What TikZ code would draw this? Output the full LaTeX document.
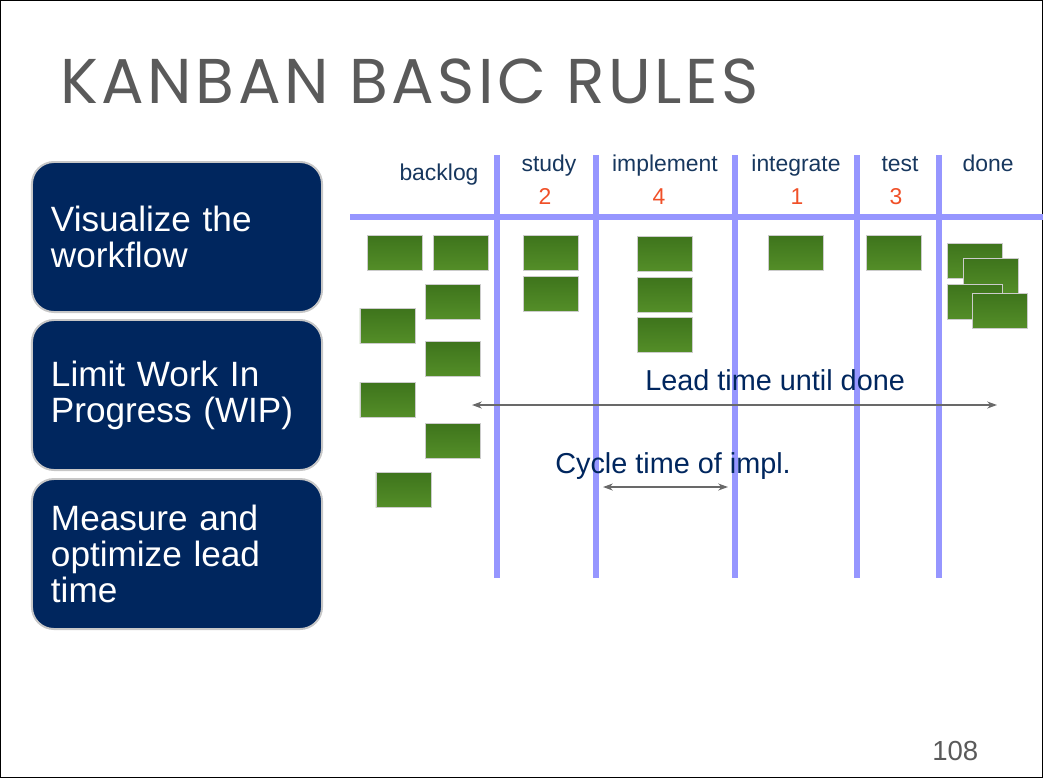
\documentclass[tikz,border=0pt]{standalone}
\usepackage{fontspec}
\setmainfont{Liberation Sans}
\newfontfamily\titlefont[LetterSpace=5.5]{Poppins}
\usetikzlibrary{arrows.meta,positioning}
\definecolor{slidenavy}{RGB}{0,38,94}
\definecolor{headblue}{RGB}{23,55,94}
\definecolor{wipred}{RGB}{240,80,40}
\definecolor{laneline}{RGB}{150,150,255}
\definecolor{cardgreen}{RGB}{84,142,40}
\definecolor{cardtop}{RGB}{62,116,28}
\definecolor{titlegray}{RGB}{90,90,90}
\definecolor{arrowgray}{RGB}{105,105,105}

\begin{document}
\begin{tikzpicture}[x=0.025cm,y=-0.025cm,
    rule/.style={draw=black!22,line width=1.4pt,fill=slidenavy,rounded corners=0.55cm,minimum width=7.25cm,minimum height=3.75cm,text width=6.3cm,inner xsep=0.475cm,align=left,text=white,font=\fontsize{25}{25.6}\selectfont},
    lane/.style={draw=laneline,line width=3.6pt},
    colhead/.style={text=headblue,font=\fontsize{16.3}{18}\selectfont,anchor=base,inner sep=0pt},
    wip/.style={text=wipred,font=\fontsize{16.3}{18}\selectfont,anchor=base,inner sep=0pt},
    card/.style={draw=white!80!black,line width=0.5pt,top color=cardtop,bottom color=cardgreen,minimum width=1.375cm,minimum height=0.875cm,inner sep=0pt},
    note/.style={text=slidenavy,font=\fontsize{20.5}{22}\selectfont,anchor=base west,inner sep=0pt},
    >={Stealth[length=7pt,width=5pt]}
]
\useasboundingbox (0,0) rectangle (1043,778);
\draw[black,line width=0.8pt] (0.5,0.5) rectangle (1042.5,777.5);

% title and rules
\node[anchor=base west,inner sep=0pt,text=titlegray,font=\titlefont\fontsize{45}{50}\selectfont] (title) at (60,103) {KANBAN BASIC RULES};
\node[rule] (visualize) at (177,237) {Visualize the\\workflow};
\node[rule] (limit) at (177,395) {Limit Work In\\Progress (WIP)};
\node[rule] (measure) at (177,554) {Measure and\\optimize lead\\time};

% board
\draw[lane] (350,217) -- (1043,217);
\foreach \x in {497,596,735,857,939}
  \draw[lane] (\x,155) -- (\x,578);

\node[colhead] (backlog) at (439,180) {backlog};
\node[colhead] (study) at (549,171) {study};
\node[colhead] (implement) at (665,171) {implement};
\node[colhead] (integrate) at (796,171) {integrate};
\node[colhead] (test) at (900,171) {test};
\node[colhead] (done) at (988,171) {done};
\node[wip] (wipstudy) at (545,204) {2};
\node[wip] (wipimpl) at (659,204) {4};
\node[wip] (wipint) at (797,204) {1};
\node[wip] (wiptest) at (896,204) {3};

% cards
\node[card] (b1) at (395,253) {};
\node[card] (b2) at (460.5,253) {};
\node[card] (b3) at (452.5,301.5) {};
\node[card] (b4) at (387.5,326) {};
\node[card] (b5) at (452.5,359) {};
\node[card] (b6) at (387.5,400) {};
\node[card] (b7) at (452.5,440.5) {};
\node[card] (b8) at (403.5,490) {};
\node[card] (s1) at (550.5,252.5) {};
\node[card] (s2) at (550.5,293.5) {};
\node[card] (i1) at (665,253.5) {};
\node[card] (i2) at (665,294.5) {};
\node[card] (i3) at (665,335) {};
\node[card] (g1) at (795.5,253) {};
\node[card] (t1) at (893.5,253) {};
\node[card] (d1) at (975,260.5) {};
\node[card] (d2) at (991,276) {};
\node[card] (d3) at (975,302) {};
\node[card] (d4) at (1000,310.5) {};

% lead and cycle time
\coordinate (leadstart) at (472,405);
\coordinate (leadend) at (997,405);
\coordinate (cyclestart) at (603,487);
\coordinate (cycleend) at (728,487);
\draw[<->,arrowgray,line width=1pt] (leadstart) -- (leadend);
\draw[<->,arrowgray,line width=1pt] (cyclestart) -- (cycleend);
\node[note] (leadtxt) at (645,390) {Lead time until done};
\node[note] (cycletxt) at (555,473) {Cycle time of impl.};

\node[anchor=base west,inner sep=0pt,text=titlegray,font=\fontsize{19.6}{22}\selectfont] (page) at (932,760) {108};
\end{tikzpicture}
\end{document}
